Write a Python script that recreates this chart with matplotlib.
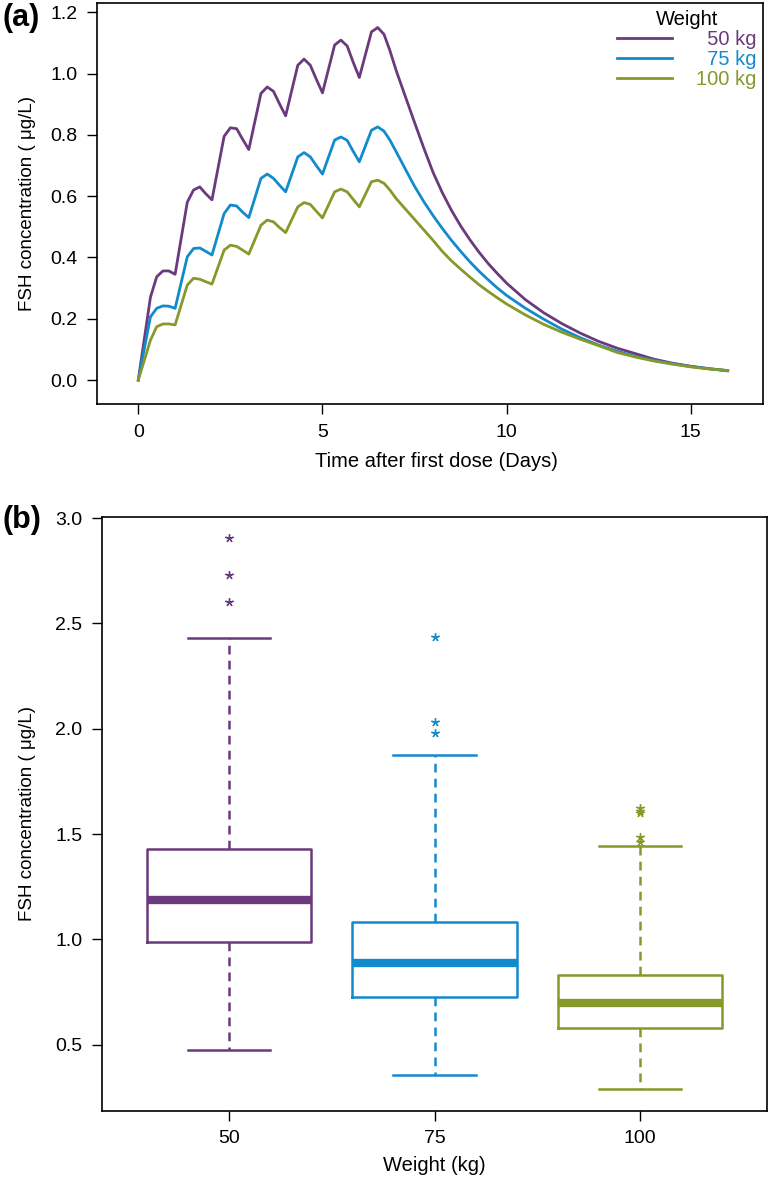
import numpy as np
import matplotlib
matplotlib.use('Agg')
from matplotlib import pyplot as plt

plt.rcParams['font.family'] = ['Liberation Sans', 'DejaVu Sans']

# Panel (a): simulated FSH concentration profiles, one dose per day for 7 days

time_days = [0, 0.33, 0.5, 0.67, 0.83,
             1, 1.33, 1.5, 1.67, 1.83,
             2, 2.33, 2.5, 2.67, 2.83,
             3, 3.33, 3.5, 3.67, 3.83,
             4, 4.33, 4.5, 4.67, 4.83,
             5, 5.33, 5.5, 5.67, 5.83,
             6, 6.33, 6.5, 6.67, 6.83,
             7, 7.25, 7.5, 7.75, 8, 8.25, 8.5, 8.75, 9, 9.25, 9.5, 9.75, 10,
             10.5, 11, 11.5, 12, 12.5, 13, 13.5, 14, 14.5, 15, 15.5, 16]

conc_50kg = [0, 0.27, 0.337, 0.356, 0.356,
             0.345, 0.58, 0.62, 0.63, 0.608,
             0.588, 0.795, 0.823, 0.82, 0.786,
             0.752, 0.935, 0.956, 0.942, 0.902,
             0.862, 1.027, 1.047, 1.027, 0.982,
             0.937, 1.093, 1.109, 1.09, 1.038,
             0.987, 1.136, 1.15, 1.128, 1.075,
             1.01, 0.925, 0.84, 0.757, 0.678, 0.612, 0.554, 0.503, 0.458, 0.417, 0.38, 0.347, 0.316,
             0.263, 0.22, 0.184, 0.153, 0.126, 0.104, 0.086, 0.068, 0.055, 0.045, 0.037, 0.030]

conc_75kg = [0, 0.206, 0.234, 0.242, 0.241,
             0.234, 0.402, 0.429, 0.431, 0.42,
             0.408, 0.543, 0.571, 0.568, 0.548,
             0.53, 0.658, 0.672, 0.658, 0.636,
             0.614, 0.728, 0.742, 0.728, 0.70,
             0.672, 0.783, 0.793, 0.782, 0.747,
             0.712, 0.815, 0.826, 0.812, 0.783,
             0.745, 0.688, 0.632, 0.582, 0.537, 0.495, 0.456, 0.42, 0.386, 0.355, 0.327, 0.3, 0.276,
             0.235, 0.199, 0.166, 0.138, 0.114, 0.094, 0.077, 0.064, 0.053, 0.044, 0.037, 0.031]

conc_100kg = [0, 0.13, 0.174, 0.183, 0.183,
              0.18, 0.31, 0.332, 0.329, 0.321,
              0.313, 0.424, 0.44, 0.436, 0.424,
              0.411, 0.505, 0.522, 0.516, 0.498,
              0.481, 0.565, 0.579, 0.573, 0.551,
              0.529, 0.614, 0.623, 0.614, 0.59,
              0.565, 0.647, 0.652, 0.642, 0.62,
              0.592, 0.558, 0.524, 0.49, 0.456, 0.42, 0.389, 0.362, 0.336, 0.311, 0.289, 0.268, 0.248,
              0.213, 0.182, 0.156, 0.133, 0.112, 0.09, 0.075, 0.062, 0.052, 0.043, 0.036, 0.031]

# Panel (b): box plot summaries per weight group

weights = [50, 75, 100]
box_whislo = [0.474, 0.356, 0.289]
box_q1 = [0.986, 0.726, 0.58]
box_med = [1.185, 0.889, 0.696]
box_q3 = [1.427, 1.081, 0.83]
box_whishi = [2.43, 1.875, 1.443]
box_outliers = [[2.60, 2.731, 2.904],
                [1.979, 2.03, 2.435],
                [1.46, 1.485, 1.60, 1.608, 1.625]]

colors = ['#6b3a7c', '#128bcc', '#86992a']
ylabel = 'FSH concentration ( \u03bcg/L)'

fig = plt.figure(figsize=(7.7, 11.8), dpi=100)

tick_kw = dict(direction='out', length=7, width=1, labelsize=14, pad=7)

# ---- panel (a)
ax1 = fig.add_axes([0.126, 0.6574, 0.865, 0.3403])
for conc, col in zip([conc_50kg, conc_75kg, conc_100kg], colors):
    ax1.plot(time_days, conc, color=col, lw=2.0)
ax1.set_xlim(-1.12, 16.96)
ax1.set_ylim(-0.079, 1.231)
ax1.set_xticks([0, 5, 10, 15])
ax1.set_yticks(np.arange(0, 1.21, 0.2))
ax1.set_yticklabels(['%.1f' % v for v in np.arange(0, 1.21, 0.2)])
ax1.tick_params(**tick_kw)
ax1.set_xlabel('Time after first dose (Days)', fontsize=14.5, va='center')
ax1.set_ylabel(ylabel, fontsize=13.5)
ax1.xaxis.set_label_coords(0.51, -0.143)
ax1.yaxis.set_label_coords(-0.092, 0.5)

labels = [' ' * 2 * (3 - len(str(w))) + '%d kg' % w for w in weights]
leg = ax1.legend(labels, title='Weight', loc='upper right', bbox_to_anchor=(1.008, 1.012),
                 frameon=False, fontsize=14.5, title_fontsize=14.5, handlelength=2.7,
                 handletextpad=1.2, labelspacing=0.05, borderaxespad=0.2)
for txt, col in zip(leg.get_texts(), colors):
    txt.set_color(col)

# ---- panel (b)
ax2 = fig.add_axes([0.1325, 0.0587, 0.8636, 0.5034])
stats = []
for i in range(len(weights)):
    stats.append(dict(whislo=box_whislo[i], q1=box_q1[i], med=box_med[i],
                      q3=box_q3[i], whishi=box_whishi[i], fliers=box_outliers[i]))
bp = ax2.bxp(stats, positions=[1, 2, 3], widths=0.8, capwidths=0.4, showfliers=True)
for i, col in enumerate(colors):
    bp['boxes'][i].set(color=col, lw=1.8)
    bp['medians'][i].set(color=col, lw=6, solid_capstyle='butt')
    for w in bp['whiskers'][2 * i:2 * i + 2]:
        w.set(color=col, lw=1.8, linestyle=(0, (3.5, 2.5)))
    for c in bp['caps'][2 * i:2 * i + 2]:
        c.set(color=col, lw=1.8)
    bp['fliers'][i].set(marker=(5, 2, 0), markersize=6, markeredgecolor=col,
                        markeredgewidth=1.0, linestyle='none')

ax2.set_xlim(0.38, 3.62)
ax2.set_ylim(0.186, 3.007)
ax2.set_xticks([1, 2, 3])
ax2.set_xticklabels([str(w) for w in weights])
ax2.set_yticks([0.5, 1.0, 1.5, 2.0, 2.5, 3.0])
ax2.set_yticklabels(['0.5', '1.0', '1.5', '2.0', '2.5', '3.0'])
ax2.tick_params(**tick_kw)
ax2.set_xlabel('Weight (kg)', fontsize=14.5, va='center')
ax2.set_ylabel(ylabel, fontsize=13.5)
ax2.xaxis.set_label_coords(0.5, -0.0914)
ax2.yaxis.set_label_coords(-0.099, 0.5)

for ax in (ax1, ax2):
    for sp in ax.spines.values():
        sp.set_linewidth(1.2)

fig.text(0.003, 0.985, '(a)', fontsize=22, fontweight='bold', va='center')
fig.text(0.003, 0.559, '(b)', fontsize=22, fontweight='bold', va='center')

plt.savefig('out.png', dpi=100)
